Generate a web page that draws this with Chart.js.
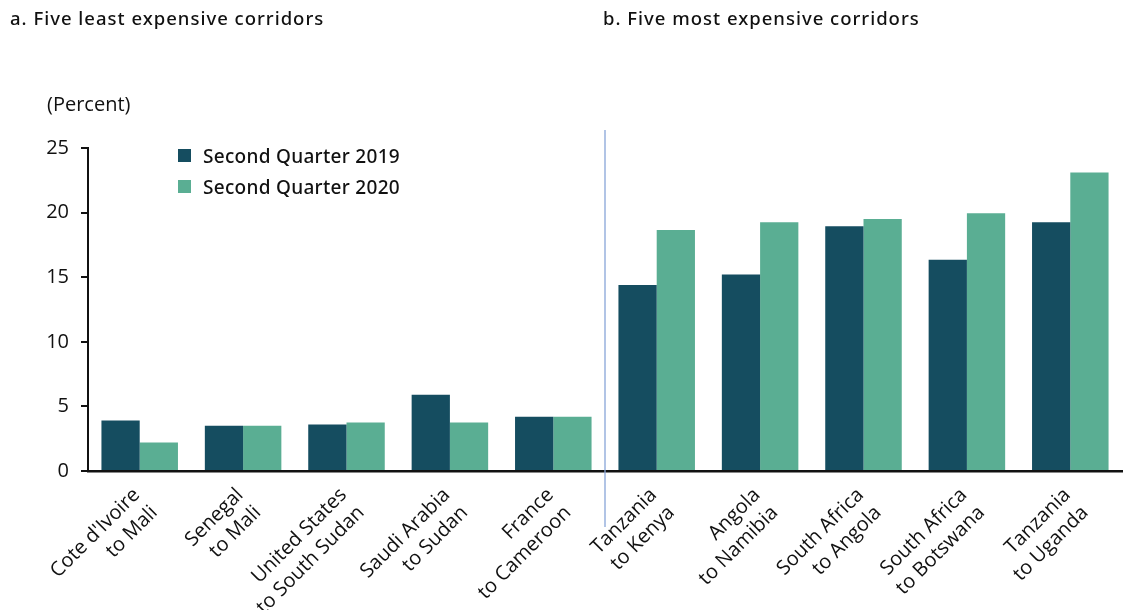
<!DOCTYPE html>
<html>
<head>
<meta charset="utf-8">
<script src="https://cdn.jsdelivr.net/npm/chart.js@4.4.0/dist/chart.umd.min.js"></script>
<style>
	html, body { margin: 0; padding: 0; background: #fff; }
	#wrap { position: relative; width: 1131px; height: 610px; font-family: 'Open Sans', sans-serif; color: #111; }
	#chart { position: absolute; left: 0; top: 0; }
	.panel-title { position: absolute; top: 5px; font-family: 'Noto Sans', sans-serif; font-size: 18.5px; font-weight: 500; letter-spacing: 1px; }
	#unit { position: absolute; left: 47px; top: 90px; font-size: 20px; }
	#legend { position: absolute; left: 178px; top: 140px; font-family: 'Noto Sans', sans-serif; font-size: 19px; font-weight: 500; letter-spacing: 0.3px; }
	.legend-item { display: flex; align-items: center; height: 31px; }
	.legend-box { width: 13px; height: 13px; margin-right: 12px; }
</style>
</head>
<body>
<div id="wrap">
	<canvas id="chart" width="1131" height="610"></canvas>
	<div class="panel-title" style="left: 10px;">a. Five least expensive corridors</div>
	<div class="panel-title" style="left: 603px;">b. Five most expensive corridors</div>
	<div id="unit">(Percent)</div>
	<div id="legend"></div>
</div>
<script>
const corridors = [
	['Cote d\'Ivoire', 'to Mali'],
	['Senegal', 'to Mali'],
	['United States', 'to South Sudan'],
	['Saudi Arabia', 'to Sudan'],
	['France', 'to Cameroon'],
	['Tanzania', 'to Kenya'],
	['Angola', 'to Namibia'],
	['South Africa', 'to Angola'],
	['South Africa', 'to Botswana'],
	['Tanzania', 'to Uganda']
];
const q2019 = [3.9, 3.5, 3.6, 5.9, 4.2, 14.4, 15.2, 18.95, 16.35, 19.25];
const q2020 = [2.2, 3.5, 3.75, 3.75, 4.2, 18.65, 19.25, 19.5, 19.95, 23.1];
const yTicks = [0, 5, 10, 15, 20, 25];

const seriesNames = ['Second Quarter 2019', 'Second Quarter 2020'];
const seriesColors = ['#154d60', '#5aae93'];

// thin separator between the two panels
const separatorPlugin = {
	id: 'separator',
	afterDraw(chart) {
		const x = chart.scales.x;
		const pos = (x.getPixelForTick(4) + x.getPixelForTick(5)) / 2;
		const ctx = chart.ctx;
		ctx.save();
		ctx.strokeStyle = '#87a5d8';
		ctx.lineWidth = 1.3;
		ctx.beginPath();
		ctx.moveTo(pos, 130);
		ctx.lineTo(pos, 527);
		ctx.stroke();
		ctx.restore();
	}
};

const legendEl = document.getElementById('legend');
seriesNames.forEach((name, i) => {
	const item = document.createElement('div');
	item.className = 'legend-item';
	item.innerHTML = `<span class="legend-box" style="background:${seriesColors[i]}"></span>${name}`;
	legendEl.appendChild(item);
});

new Chart(document.getElementById('chart'), {
	type: 'bar',
	data: {
		labels: corridors,
		datasets: [
			{ label: seriesNames[0], data: q2019, backgroundColor: seriesColors[0] },
			{ label: seriesNames[1], data: q2020, backgroundColor: seriesColors[1] }
		]
	},
	options: {
		responsive: false,
		animation: false,
		layout: { padding: { top: 148, right: 9, left: 0, bottom: 0 } },
		datasets: {
			bar: { categoryPercentage: 0.74, barPercentage: 1.0 }
		},
		plugins: {
			legend: { display: false },
			tooltip: { enabled: false }
		},
		scales: {
			x: {
				grid: { display: false, drawTicks: false },
				border: { color: '#111', width: 2.5 },
				ticks: {
					color: '#111',
					font: { family: 'Open Sans', size: 20, lineHeight: 1.25 },
					maxRotation: 45,
					minRotation: 45,
					autoSkip: false,
					labelOffset: -3,
					padding: 12
				},
				afterFit(scale) { scale.height = 139; }
			},
			y: {
				min: 0,
				max: 25,
				afterBuildTicks(scale) { scale.ticks = yTicks.map((v) => ({ value: v })); },
				grid: { display: true, drawOnChartArea: false, drawTicks: true, tickLength: 7, color: '#111', lineWidth: 2 },
				border: { color: '#111', width: 2 },
				ticks: {
					color: '#111',
					font: { family: 'Open Sans', size: 20 },
					padding: 12
				},
				afterFit(scale) { scale.width = 88; }
			}
		}
	},
	plugins: [separatorPlugin]
});
</script>
</body>
</html>
